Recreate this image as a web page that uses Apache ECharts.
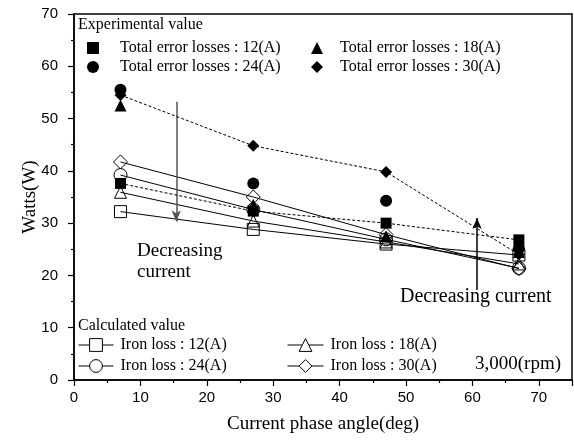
<!DOCTYPE html>
<html><head><meta charset="utf-8">
<script src="https://cdn.jsdelivr.net/npm/echarts@6/dist/echarts.min.js"></script>
<style>html,body{margin:0;padding:0;background:#fff}#c{width:574px;height:447px}</style>
</head><body><div id="c"></div>
<script>
const angles = [7, 27, 47, 67];
const exp12 = [37.6, 32.3, 30.0, 26.8];
const exp18 = [52.5, 33.5, 27.5, 24.5];
const exp24 = [55.5, 37.6, 34.3, 25.2];
const exp30 = [54.5, 44.8, 39.8, 24.0];
const calc12 = [32.2, 28.8, 26.0, 23.9];
const calc18 = [35.9, 30.4, 26.4, 22.2];
const calc24 = [39.2, 32.6, 26.9, 21.4];
const calc30 = [41.7, 35.0, 27.8, 21.3];
const xTicks = [0, 10, 20, 30, 40, 50, 60, 70];
const yTicks = [0, 10, 20, 30, 40, 50, 60, 70];
const expNames = ['Total error losses : 12(A)', 'Total error losses : 18(A)', 'Total error losses : 24(A)', 'Total error losses : 30(A)'];
const calcNames = ['Iron loss : 12(A)', 'Iron loss : 18(A)', 'Iron loss : 24(A)', 'Iron loss : 30(A)'];
const arrowDown = [[15.4, 53.2], [15.4, 30.3]];
const arrowUp = [[60.7, 17.2], [60.7, 31.0]];

const pair = v => angles.map((a, i) => [a, v[i]]);
const serif = 'Liberation Serif';
const sans = 'Liberation Sans';

function calcSeries(name, vals, sym, size) {
  return {
    name, type: 'line', data: pair(vals), symbol: sym, symbolSize: size,
    lineStyle: { color: '#000', width: 1 },
    itemStyle: { color: 'rgba(0,0,0,0)', borderColor: '#000', borderWidth: 1 },
    z: 2, animation: false
  };
}
function expSeries(name, vals, sym, size, dashed) {
  const s = {
    name, type: dashed ? 'line' : 'scatter', data: pair(vals), symbol: sym, symbolSize: size,
    itemStyle: { color: '#000', opacity: 1 }, z: 5, animation: false
  };
  if (dashed) s.lineStyle = { color: '#000', width: 1, type: [3, 2] };
  return s;
}
function legendExp(name, icon, left, top, pad) {
  return {
    data: [{ name, icon }], left, top, padding: 0, itemWidth: 12, itemHeight: 12,
    selectedMode: false,
    itemStyle: { color: '#000', opacity: 1 },
    textStyle: { fontFamily: serif, fontSize: 16, color: '#000', padding: [0, 0, 0, pad] }
  };
}
function legendCalc(name, left, top, w, pad) {
  return {
    data: [name], left, top, padding: 0, itemWidth: w, itemHeight: 16,
    selectedMode: false,
    itemStyle: { color: '#fff', borderColor: '#000', borderWidth: 1 },
    lineStyle: { color: '#000', width: 1 },
    textStyle: { fontFamily: serif, fontSize: 16, color: '#000', padding: [0, 0, 0, pad] }
  };
}

const chart = echarts.init(document.getElementById('c'), null, { renderer: 'canvas' });
chart.setOption({
  animation: false,
  grid: { left: 74, right: 2, top: 14, bottom: 67, show: true, borderColor: '#000', borderWidth: 1.5, backgroundColor: 'transparent' },
  xAxis: {
    type: 'value', min: 0, max: 75, interval: 10,
    name: 'Current phase angle(deg)', nameLocation: 'middle', nameGap: 35, nameMoveOverlap: false,
    nameTextStyle: { fontFamily: serif, fontSize: 19, color: '#000' },
    axisLine: { lineStyle: { color: '#000', width: 1.5 } },
    axisTick: { show: true, length: 6, lineStyle: { color: '#000', width: 1.2 } },
    minorTick: { show: true, splitNumber: 2, length: 3, lineStyle: { color: '#000', width: 1.2 } },
    splitLine: { show: false },
    axisLabel: { fontFamily: sans, fontSize: 15, color: '#000', margin: 10, showMaxLabel: false,
      formatter: v => xTicks.includes(v) ? String(v) : '' }
  },
  yAxis: {
    type: 'value', min: 0, max: 70, interval: 10,
    name: 'Watts(W)', nameLocation: 'middle', nameGap: 34, nameRotate: 90, nameMoveOverlap: false,
    nameTextStyle: { fontFamily: serif, fontSize: 19, color: '#000' },
    axisLine: { lineStyle: { color: '#000', width: 1.5 } },
    axisTick: { show: true, length: 6, lineStyle: { color: '#000', width: 1.2 } },
    minorTick: { show: true, splitNumber: 2, length: 3, lineStyle: { color: '#000', width: 1.2 } },
    splitLine: { show: false },
    axisLabel: { fontFamily: sans, fontSize: 15, color: '#000', margin: 16,
      formatter: v => yTicks.includes(v) ? String(v) : '' }
  },
  legend: [
    legendExp(expNames[0], 'rect', 87, 40, 16),
    legendExp(expNames[1], 'triangle', 311, 40, 12),
    legendExp(expNames[2], 'circle', 87, 59, 16),
    legendExp(expNames[3], 'diamond', 311, 59, 12),
    legendCalc(calcNames[0], 78, 337, 35, 2),
    legendCalc(calcNames[1], 287, 337, 36, 2),
    legendCalc(calcNames[2], 78, 358, 35, 2),
    legendCalc(calcNames[3], 287, 358, 36, 2)
  ],
  graphic: [
    { type: 'text', left: 78, top: 17, style: { text: 'Experimental value', font: '16px "Liberation Serif"', fill: '#000' } },
    { type: 'text', left: 78, top: 318, style: { text: 'Calculated value', font: '16px "Liberation Serif"', fill: '#000' } },
    { type: 'text', left: 137, top: 241, style: { text: 'Decreasing\ncurrent', font: '19px "Liberation Serif"', lineHeight: 21, fill: '#000' } },
    { type: 'text', left: 400, top: 287, style: { text: 'Decreasing current', font: '20px "Liberation Serif"', fill: '#000' } },
    { type: 'text', left: 475, top: 355, style: { text: '3,000(rpm)', font: '19px "Liberation Serif"', fill: '#000' } }
  ],
  series: [
    calcSeries(calcNames[0], calc12, 'rect', 12),
    calcSeries(calcNames[1], calc18, 'triangle', 12),
    calcSeries(calcNames[2], calc24, 'circle', 13),
    calcSeries(calcNames[3], calc30, 'diamond', 14),
    expSeries(expNames[0], exp12, 'rect', 11, true),
    expSeries(expNames[1], exp18, 'triangle', 12, false),
    expSeries(expNames[2], exp24, 'circle', 12, false),
    expSeries(expNames[3], exp30, 'diamond', 12, true),
    {
      type: 'line', data: [], silent: true, animation: false,
      markLine: {
        silent: true, symbol: ['none', 'arrow'], symbolSize: [7, 11], label: { show: false },
        animation: false,
        data: [
          [{ coord: arrowDown[0], lineStyle: { color: '#555', width: 1.5, type: 'solid' } }, { coord: arrowDown[1] }],
          [{ coord: arrowUp[0], lineStyle: { color: '#000', width: 1.5, type: 'solid' } }, { coord: arrowUp[1] }]
        ]
      }
    }
  ]
});
</script></body></html>
